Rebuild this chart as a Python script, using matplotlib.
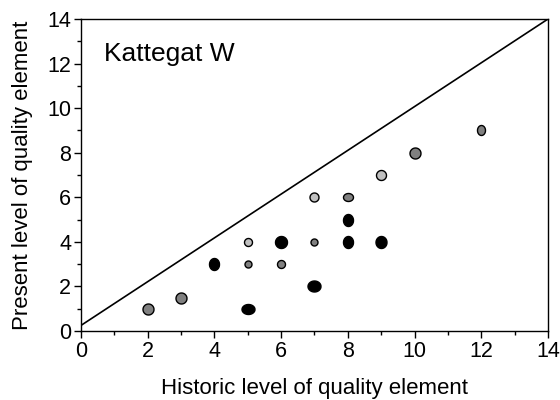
import matplotlib
matplotlib.use('Agg')
import matplotlib.pyplot as plt
from matplotlib.ticker import MultipleLocator
import numpy as np

plt.rcParams['font.family'] = ['Liberation Sans', 'DejaVu Sans']

# historic vs present level for each station
historic = [2, 3, 4, 5, 5, 5, 6, 6, 7, 7, 7, 8, 8, 8, 9, 9, 10, 12]
present = [1, 1.5, 3, 4, 3, 1, 4, 3, 6, 4, 2, 6, 5, 4, 7, 4, 8, 9]
shade = ['gray', 'gray', 'black', 'light', 'gray', 'black', 'black', 'gray', 'light',
         'gray', 'black', 'gray', 'black', 'black', 'light', 'black', 'gray', 'gray']
# marker size in pixels (width, height)
mk_w = [11, 11, 10, 8, 7, 13, 12, 8, 9, 7, 13, 10, 10, 10, 10, 11, 11, 8]
mk_h = [11, 11, 12, 8, 7, 10, 12, 8, 9, 7, 11, 8, 12, 12, 10, 12, 11, 10]

line_x = [0, 14]
line_y = [0.25, 14]

colores = {'gray': '#808080', 'light': '#c0c0c0', 'black': '#000000'}

fig = plt.figure(figsize=(5.6, 4), dpi=100)
ax = fig.add_axes([0.1446, 0.1725, 0.834, 0.78])

ax.plot(line_x, line_y, color='black', lw=1.2, zorder=2)

t = np.linspace(0, 2 * np.pi, 60)
for xi, yi, c, w, h in zip(historic, present, shade, mk_w, mk_h):
    verts = np.column_stack([w * np.cos(t), h * np.sin(t)])
    tam = max(w, h) * 0.72  # px -> pt
    ax.scatter(xi, yi, marker=verts, s=tam ** 2, facecolor=colores[c],
               edgecolor='black', linewidths=1.0, zorder=3)

ax.set_xlim(0, 14)
ax.set_ylim(0, 14)
ax.xaxis.set_major_locator(MultipleLocator(2))
ax.xaxis.set_minor_locator(MultipleLocator(1))
ax.yaxis.set_major_locator(MultipleLocator(2))
ax.yaxis.set_minor_locator(MultipleLocator(1))
ax.tick_params(which='major', direction='out', length=5, width=1, labelsize=15.5, pad=2)
ax.tick_params(which='minor', direction='out', length=3, width=1)
for s in ax.spines.values():
    s.set_linewidth(1)

ax.text(0.69, 12.1, 'Kattegat W', fontsize=19)
ax.set_xlabel('Historic level of quality element', fontsize=16)
ax.set_ylabel('Present level of quality element', fontsize=16)
ax.xaxis.set_label_coords(0.5, -0.151)
ax.yaxis.set_label_coords(-0.103, 0.5)

fig.savefig('out.png', dpi=100)
